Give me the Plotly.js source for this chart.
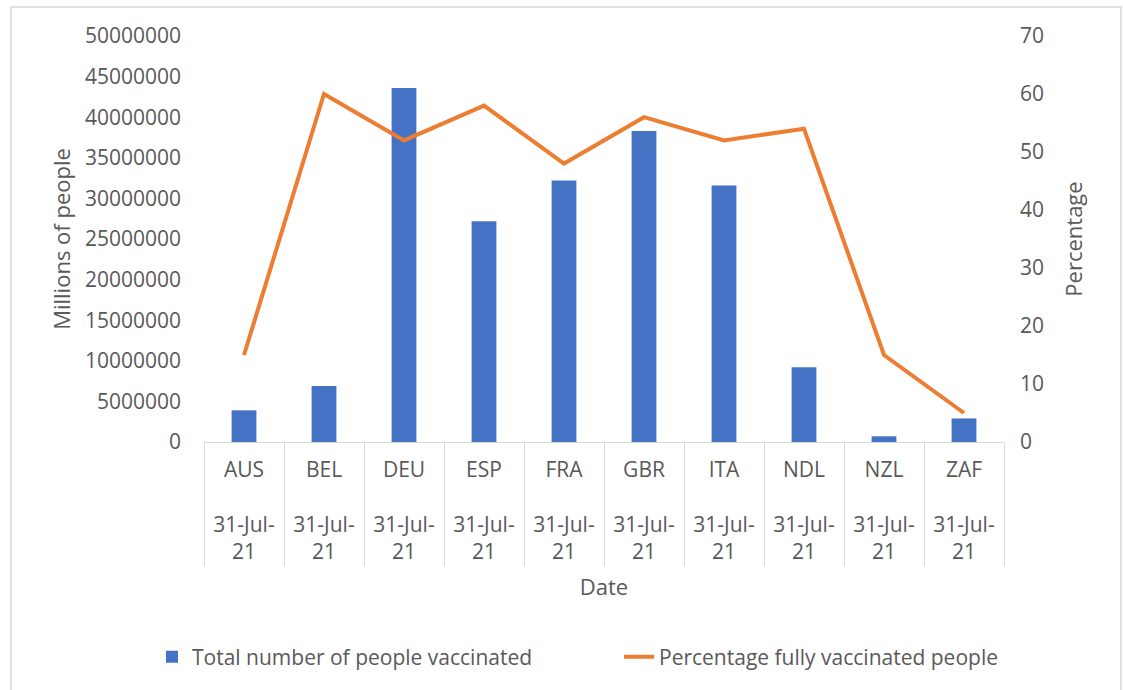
<!DOCTYPE html>
<html>
<head>
<meta charset="utf-8">
<script src="https://cdn.plot.ly/plotly-3.0.1.min.js"></script>
<style>html,body{margin:0;padding:0;background:#fff;}#chart{width:1123px;height:690px;}</style>
</head>
<body>
<div id="chart"></div>
<script>
const countries = ["AUS","BEL","DEU","ESP","FRA","GBR","ITA","NDL","NZL","ZAF"];
const dates = ["31-Jul-21","31-Jul-21","31-Jul-21","31-Jul-21","31-Jul-21","31-Jul-21","31-Jul-21","31-Jul-21","31-Jul-21","31-Jul-21"];
const totalVaccinated = [3900000, 6900000, 43600000, 27200000, 32200000, 38300000, 31600000, 9200000, 700000, 2900000];
const pctFullyVaccinated = [15, 60, 52, 58, 48, 56, 52, 54, 15, 5];
const leftTicks = [0,5000000,10000000,15000000,20000000,25000000,30000000,35000000,40000000,45000000,50000000];
const rightTicks = [0,10,20,30,40,50,60,70];

const tickText = countries.map((c, i) => {
  const d = dates[i];
  const cut = d.lastIndexOf("-") + 1;
  return c + "<br><br>" + d.slice(0, cut) + "<br>" + d.slice(cut);
});

const FONT = "Open Sans, sans-serif";
const GREY = "#595959";

const traces = [
  {
    type: "bar",
    x: countries,
    y: totalVaccinated,
    name: "Total number of people vaccinated",
    marker: {color: "#4472C4"},
    yaxis: "y",
    hoverinfo: "x+y"
  },
  {
    type: "scatter",
    mode: "lines",
    x: countries,
    y: pctFullyVaccinated,
    name: "Percentage fully vaccinated people",
    line: {color: "#ED7D31", width: 4},
    yaxis: "y2"
  }
];

const layout = {
  width: 1123,
  height: 690,
  margin: {l: 204, r: 119, t: 36, b: 248},
  paper_bgcolor: "#ffffff",
  plot_bgcolor: "#ffffff",
  font: {family: FONT, size: 21, color: GREY},
  bargap: 0.69,
  showlegend: true,
  legend: {
    orientation: "h",
    x: -0.065,
    xanchor: "left",
    y: -0.53,
    yanchor: "middle",
    font: {family: FONT, size: 21, color: GREY},
    entrywidth: 422,
    itemwidth: 30,
    traceorder: "normal"
  },
  xaxis: {
    type: "category",
    categoryorder: "array",
    categoryarray: countries,
    tickmode: "array",
    tickvals: countries,
    ticktext: tickText,
    tickson: "boundaries",
    ticks: "outside",
    ticklen: 123,
    tickwidth: 1,
    tickcolor: "#d9d9d9",
    ticklabelstandoff: 9,
    showline: true,
    linecolor: "#d9d9d9",
    linewidth: 1,
    showgrid: false,
    zeroline: false,
    range: [-0.5, 9.5],
    tickfont: {family: FONT, size: 21, color: GREY},
    title: {text: "Date", font: {family: FONT, size: 22, color: GREY}, standoff: 15}
  },
  yaxis: {
    range: [0, 50000000],
    tickmode: "array",
    tickvals: leftTicks,
    ticktext: leftTicks.map(v => String(v)),
    showgrid: false,
    zeroline: false,
    showline: false,
    ticks: "",
    ticklabelstandoff: 22,
    tickfont: {family: FONT, size: 21, color: GREY},
    title: {text: "Millions of people", font: {family: FONT, size: 22, color: GREY}, standoff: 8}
  },
  yaxis2: {
    overlaying: "y",
    side: "right",
    range: [0, 70],
    tickmode: "array",
    tickvals: rightTicks,
    ticktext: rightTicks.map(v => String(v)),
    showgrid: false,
    zeroline: false,
    showline: false,
    ticks: "",
    ticklabelstandoff: 15,
    tickfont: {family: FONT, size: 21, color: GREY},
    title: {text: "Percentage", font: {family: FONT, size: 22, color: GREY}, standoff: 23}
  },
  shapes: [
    {
      type: "rect", xref: "paper", yref: "paper",
      x0: -0.24125, x1: 1.14625, y0: -0.65, y1: 1.0714,
      line: {color: "#d9d9d9", width: 1.5},
      fillcolor: "rgba(0,0,0,0)",
      layer: "below"
    }
  ]
};

Plotly.newPlot("chart", traces, layout, {displayModeBar: false, staticPlot: true});
</script>
</body>
</html>
